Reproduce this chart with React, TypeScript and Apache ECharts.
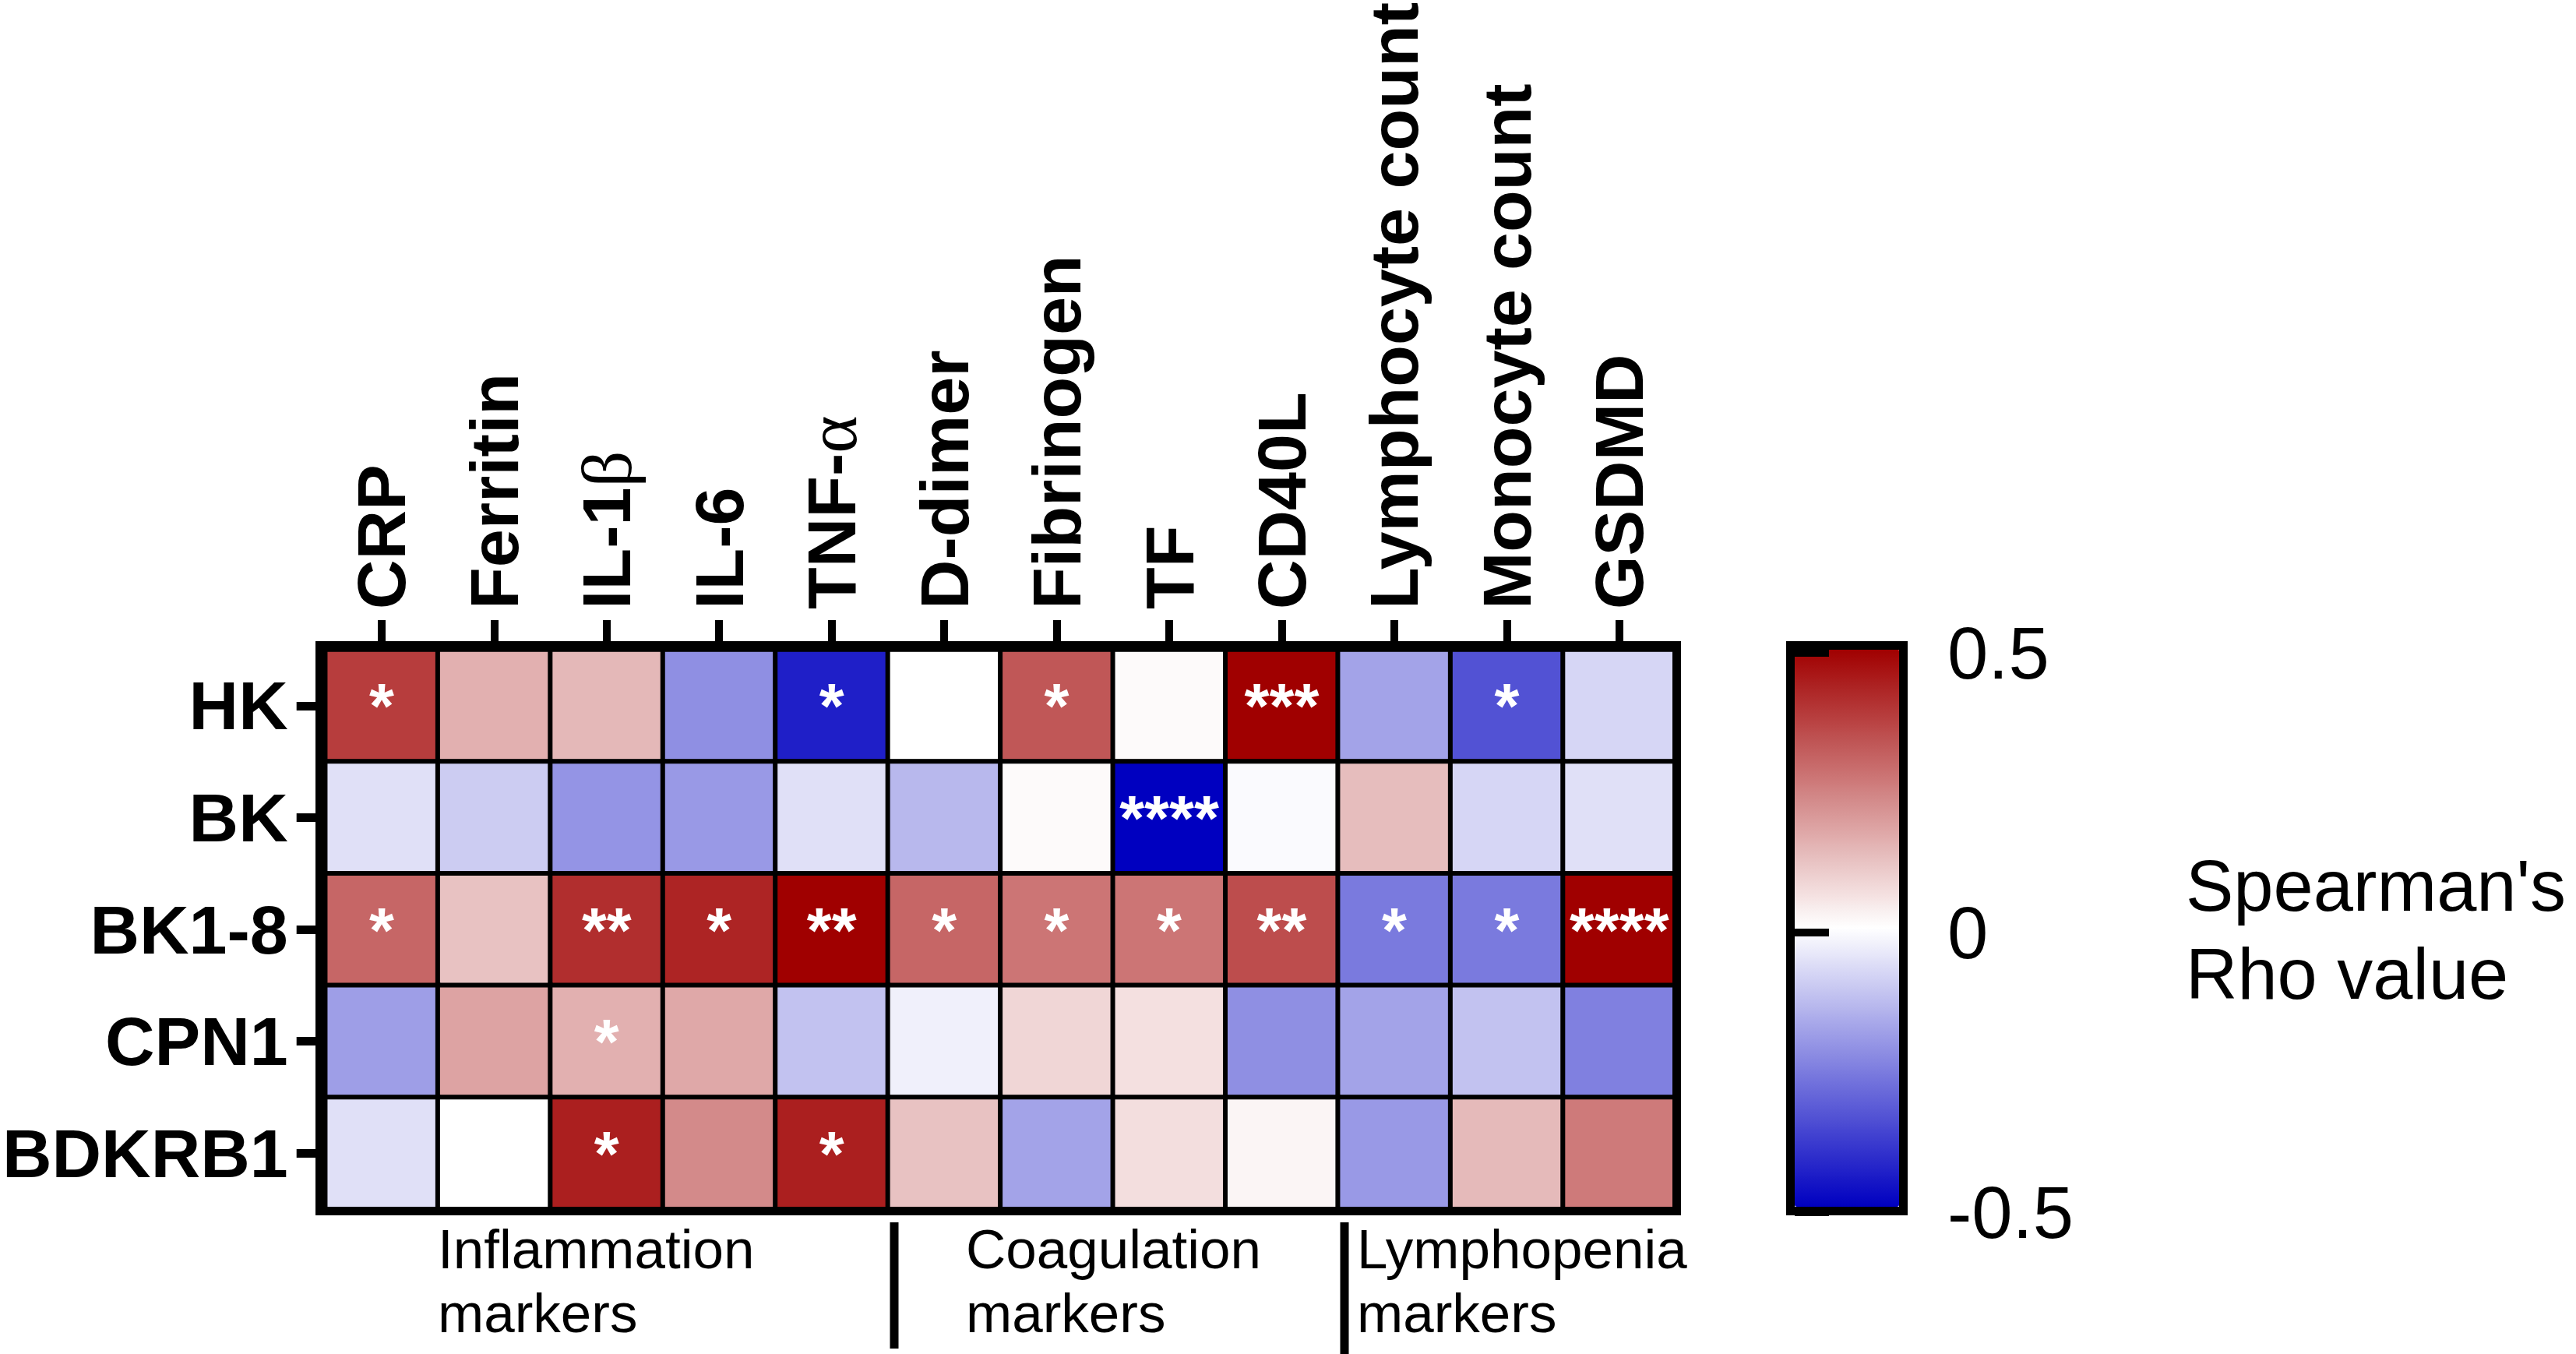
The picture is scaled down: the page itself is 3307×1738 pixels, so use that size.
import React, { useEffect, useRef } from "react";
import * as echarts from "echarts";

const columns = ["CRP", "Ferritin", "IL-1β", "IL-6", "TNF-α", "D-dimer", "Fibrinogen", "TF", "CD40L", "Lymphocyte count", "Monocyte count", "GSDMD"];
const rowNames = ["HK", "BK", "BK1-8", "CPN1", "BDKRB1"];

const rhoHK = [0.38, 0.155, 0.14, -0.22, -0.44, 0.0, 0.33, 0.01, 0.5, -0.18, -0.34, -0.08];
const rhoBK = [-0.06, -0.1, -0.21, -0.2, -0.06, -0.14, 0.01, -0.5, -0.01, 0.13, -0.08, -0.06];
const rhoBK18 = [0.3, 0.12, 0.41, 0.43, 0.5, 0.3, 0.27, 0.27, 0.35, -0.26, -0.26, 0.5];
const rhoCPN1 = [-0.19, 0.18, 0.155, 0.17, -0.12, -0.03, 0.08, 0.06, -0.22, -0.18, -0.12, -0.25];
const rhoBDKRB1 = [-0.06, 0.0, 0.44, 0.23, 0.44, 0.12, -0.18, 0.065, 0.02, -0.2, 0.135, 0.26];

const starsHK = ["*", "", "", "", "*", "", "*", "", "***", "", "*", ""];
const starsBK = ["", "", "", "", "", "", "", "****", "", "", "", ""];
const starsBK18 = ["*", "", "**", "*", "**", "*", "*", "*", "**", "*", "*", "****"];
const starsCPN1 = ["", "", "*", "", "", "", "", "", "", "", "", ""];
const starsBDKRB1 = ["", "", "*", "", "*", "", "", "", "", "", "", ""];

const colorbarTicks = [-0.5, 0, 0.5];
const groupLabels = ["Inflammation", "Coagulation", "Lymphopenia"];

const rhoRows = [rhoHK, rhoBK, rhoBK18, rhoCPN1, rhoBDKRB1];
const starRows = [starsHK, starsBK, starsBK18, starsCPN1, starsBDKRB1];

const FONT = "Liberation Sans, Arial, sans-serif";

function greekRich(v: string) {
  const m = v.match(/^(.*?)([α-ωΑ-Ω])$/);
  if (m) return "{b|" + m[1] + "}{g|" + m[2] + "}";
  return "{b|" + v + "}";
}

export default function App() {
  const ref = useRef<HTMLDivElement>(null);
  useEffect(() => {
    if (!ref.current) return;
    const chart = echarts.init(ref.current, null, { renderer: "svg" });
    const data: number[][] = [];
    rhoRows.forEach((row, r) => row.forEach((v, c) => data.push([c, r, v])));

    const richStyles = {
      b: { fontFamily: FONT, fontWeight: "bold", fontSize: 88, color: "#000" },
      g: { fontFamily: "Liberation Serif, serif", fontWeight: "normal", fontSize: 92, color: "#000" },
    };

    const option: any = {
      animation: false,
      backgroundColor: "#fff",
      grid: [
        { left: 413, top: 831, width: 1738, height: 721, show: false },
        { left: 2304, top: 838, width: 134, height: 718, show: false },
      ],
      xAxis: [
        {
          type: "category",
          gridIndex: 0,
          data: columns,
          position: "top",
          offset: 8,
          axisLine: { show: false },
          axisTick: { show: true, alignWithLabel: true, length: 30, lineStyle: { color: "#000", width: 10 } },
          axisLabel: {
            rotate: -90,
            margin: 44,
            interval: 0,
            formatter: (v: string) => greekRich(v),
            rich: richStyles,
          },
          splitLine: { show: false },
        },
        { type: "value", gridIndex: 1, show: false, min: 0, max: 1 },
      ],
      yAxis: [
        {
          type: "category",
          gridIndex: 0,
          data: rowNames,
          inverse: true,
          position: "left",
          offset: 8,
          axisLine: { show: false },
          axisTick: { show: true, alignWithLabel: true, length: 29, lineStyle: { color: "#000", width: 11 } },
          axisLabel: { margin: 40, fontFamily: FONT, fontWeight: "bold", fontSize: 88, color: "#000" },
          splitLine: { show: false },
        },
        {
          type: "value",
          gridIndex: 1,
          min: colorbarTicks[0],
          max: colorbarTicks[2],
          interval: 0.5,
          position: "right",
          offset: -22,
          axisLine: { show: false },
          splitLine: { show: false },
          axisTick: { show: true, length: 22, lineStyle: { color: "#000", width: 10 } },
          axisLabel: { margin: 84, fontFamily: FONT, fontSize: 94, color: "#000", formatter: (v: number) => String(v) },
          z: 20,
        },
        {
          type: "value",
          gridIndex: 1,
          min: colorbarTicks[0],
          max: colorbarTicks[2],
          interval: 0.5,
          position: "left",
          offset: -22,
          axisLine: { show: false },
          splitLine: { show: false },
          axisTick: { show: true, length: 22, lineStyle: { color: "#000", width: 10 } },
          axisLabel: { show: false },
          z: 20,
        },
      ],
      visualMap: {
        type: "continuous",
        seriesIndex: 0,
        min: -0.5,
        max: 0.5,
        calculable: false,
        orient: "vertical",
        left: 2304,
        top: 833,
        itemWidth: 134,
        itemHeight: 716,
        padding: 0,
        text: null,
        z: 2,
        inRange: { color: ["#0000C0", "#FFFFFF", "#A00000"] },
        hoverLink: false,
      },
      series: [
        {
          type: "heatmap",
          xAxisIndex: 0,
          yAxisIndex: 0,
          data,
          itemStyle: { borderColor: "#000", borderWidth: 6 },
          emphasis: { disabled: true },
          label: {
            show: true,
            formatter: (p: any) => starRows[p.value[1]][p.value[0]],
            color: "#fff",
            fontFamily: FONT,
            fontWeight: "bold",
            fontSize: 82,
          },
        },
      ],
      graphic: [
        {
          type: "rect",
          z: 100,
          shape: { x: 410.5, y: 828.5, width: 1742, height: 726 },
          style: { fill: "none", stroke: "#000", lineWidth: 11 },
        },
        {
          type: "rect",
          z: 100,
          shape: { x: 2298.5, y: 828.5, width: 145, height: 726 },
          style: { fill: "none", stroke: "#000", lineWidth: 11 },
        },
        { type: "line", z: 100, shape: { x1: 1148, y1: 1569, x2: 1148, y2: 1731 }, style: { stroke: "#000", lineWidth: 11 } },
        { type: "line", z: 100, shape: { x1: 1726, y1: 1569, x2: 1726, y2: 1745 }, style: { stroke: "#000", lineWidth: 11 } },
        { type: "text", z: 100, x: 562, y: 1603, style: { text: groupLabels[0], font: "71px " + FONT, fill: "#000", verticalAlign: "middle", align: "left" } },
        { type: "text", z: 100, x: 562, y: 1685, style: { text: "markers", font: "71px " + FONT, fill: "#000", verticalAlign: "middle", align: "left" } },
        { type: "text", z: 100, x: 1240, y: 1603, style: { text: groupLabels[1], font: "71px " + FONT, fill: "#000", verticalAlign: "middle", align: "left" } },
        { type: "text", z: 100, x: 1240, y: 1685, style: { text: "markers", font: "71px " + FONT, fill: "#000", verticalAlign: "middle", align: "left" } },
        { type: "text", z: 100, x: 1742, y: 1603, style: { text: groupLabels[2], font: "71px " + FONT, fill: "#000", verticalAlign: "middle", align: "left" } },
        { type: "text", z: 100, x: 1742, y: 1685, style: { text: "markers", font: "71px " + FONT, fill: "#000", verticalAlign: "middle", align: "left" } },
        { type: "text", z: 100, x: 2806, y: 1137, style: { text: "Spearman's", font: "92px " + FONT, fill: "#000", verticalAlign: "middle", align: "left" } },
        { type: "text", z: 100, x: 2806, y: 1250, style: { text: "Rho value", font: "92px " + FONT, fill: "#000", verticalAlign: "middle", align: "left" } },
      ],
    };
    chart.setOption(option);
    return () => chart.dispose();
  }, []);
  return <div ref={ref} style={{ position: "fixed", left: 0, top: 0, width: 3307, height: 1738, background: "#fff" }} />;
}
